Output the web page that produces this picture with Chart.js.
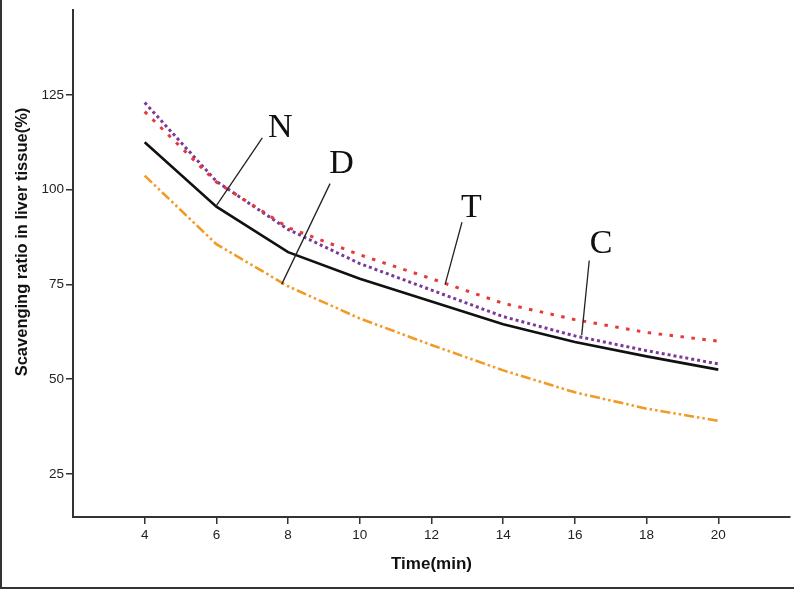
<!DOCTYPE html>
<html>
<head>
<meta charset="utf-8">
<script src="https://cdn.jsdelivr.net/npm/chart.js@4/dist/chart.umd.min.js"></script>
<style>
  html, body { margin: 0; padding: 0; background: #fff; }
  #wrap { width: 794px; height: 589px; position: relative; }
</style>
</head>
<body>
<div id="wrap"><canvas id="chart" width="794" height="589"></canvas></div>
<script>
// ── Data ────────────────────────────────────────────────────────────
const times   = [4, 6, 8, 10, 12, 14, 16, 18, 20];
const seriesN = [112.5, 95.5, 83.5, 76.5, 70.5, 64.5, 59.8, 56.0, 52.5];   // black, solid
const seriesD = [103.7, 85.6, 74.5, 66.0, 59.0, 52.3, 46.5, 42.2, 39.0];   // orange, dash-dot-dot
const seriesT = [120.6, 102.0, 90.0, 82.8, 76.5, 70.0, 65.7, 62.3, 60.0];  // red, dotted
const seriesC = [123.0, 102.2, 89.5, 80.5, 73.5, 66.5, 61.4, 57.5, 54.0];  // purple, dotted
const xTicks  = [4, 6, 8, 10, 12, 14, 16, 18, 20];
const yTicks  = [25, 50, 75, 100, 125];

// callout labels, in data units: text, text position, leader start, leader end
const calloutText = ['N', 'D', 'T', 'C'];
const calloutPos  = [[7.78, 116.8], [9.49, 107.4], [13.11, 95.7], [16.73, 86.1]];
const leaderFrom  = [[7.28, 113.7], [9.17, 101.6], [12.85, 91.4], [16.40, 81.3]];
const leaderTo    = [[6.00, 95.8],  [7.82, 75.0],  [12.38, 75.0], [16.19, 61.6]];

const toPoints = ys => ys.map((y, i) => ({ x: times[i], y }));

const SANS  = '"Liberation Sans", Arial, sans-serif';
const SERIF = '"Liberation Serif", "Times New Roman", serif';

// ── Plugin: frame, axis titles, callouts ───────────────────────────
const decor = {
  id: 'decor',
  afterDraw(chart) {
    const { ctx, scales: { x, y }, chartArea } = chart;
    ctx.save();

    // picture frame (left + bottom)
    ctx.strokeStyle = '#333';
    ctx.lineWidth = 2;
    ctx.beginPath();
    ctx.moveTo(1, 0);
    ctx.lineTo(1, 588);
    ctx.lineTo(794, 588);
    ctx.stroke();

    // axis titles
    ctx.fillStyle = '#111';
    ctx.textAlign = 'center';
    ctx.textBaseline = 'middle';
    ctx.font = 'bold 17px ' + SANS;
    ctx.fillText('Time(min)', (chartArea.left + chartArea.right) / 2, 564);

    ctx.save();
    ctx.translate(22, 242);
    ctx.rotate(-Math.PI / 2);
    ctx.font = 'bold 16.5px ' + SANS;
    ctx.fillText('Scavenging ratio in liver tissue(%)', 0, 0);
    ctx.restore();

    // callouts
    ctx.strokeStyle = '#222';
    ctx.lineWidth = 1.3;
    calloutText.forEach((t, i) => {
      ctx.beginPath();
      ctx.moveTo(x.getPixelForValue(leaderFrom[i][0]), y.getPixelForValue(leaderFrom[i][1]));
      ctx.lineTo(x.getPixelForValue(leaderTo[i][0]),   y.getPixelForValue(leaderTo[i][1]));
      ctx.stroke();
    });
    ctx.fillStyle = '#111';
    ctx.font = '34px ' + SERIF;
    calloutText.forEach((t, i) => {
      ctx.fillText(t, x.getPixelForValue(calloutPos[i][0]), y.getPixelForValue(calloutPos[i][1]) + 2);
    });

    ctx.restore();
  },
};

// ── Chart ──────────────────────────────────────────────────────────
const line = (data, color, width, dash) => ({
  data: toPoints(data),
  borderColor: color,
  borderWidth: width,
  borderDash: dash,
  pointRadius: 0,
  tension: 0,
  fill: false,
});

new Chart(document.getElementById('chart').getContext('2d'), {
  type: 'line',
  data: {
    datasets: [
      line(seriesD, '#f39a24', 2.6, [10, 3, 2.5, 3, 2.5, 3]),
      line(seriesN, '#111111', 2.6, []),
      line(seriesT, '#e53a35', 3, [3.5, 7.5]),
      line(seriesC, '#7a3a9a', 3, [3, 3]),
    ],
  },
  options: {
    responsive: false,
    animation: false,
    events: [],
    layout: { padding: { top: 3, right: 4, left: 0, bottom: 0 } },
    plugins: { legend: { display: false }, tooltip: { enabled: false } },
    scales: {
      x: {
        type: 'linear',
        min: 2,
        max: 22,
        afterBuildTicks: s => { s.ticks = xTicks.map(v => ({ value: v })); },
        afterFit: s => { s.height = 72; },
        ticks: { color: '#222', font: { family: SANS, size: 13.5 }, padding: 3, maxRotation: 0 },
        grid: { drawOnChartArea: false, drawTicks: true, tickLength: 7, color: '#333', lineWidth: 1.5 },
        border: { color: '#333', width: 2 },
      },
      y: {
        min: 13.6,
        max: 147.4,
        afterBuildTicks: s => { s.ticks = yTicks.map(v => ({ value: v })); },
        afterFit: s => { s.width = 73; },
        ticks: { color: '#222', font: { family: SANS, size: 13.5 }, padding: 2 },
        grid: { drawOnChartArea: false, drawTicks: true, tickLength: 7, color: '#333', lineWidth: 1.5 },
        border: { color: '#333', width: 2 },
      },
    },
  },
  plugins: [decor],
});
</script>
</body>
</html>
